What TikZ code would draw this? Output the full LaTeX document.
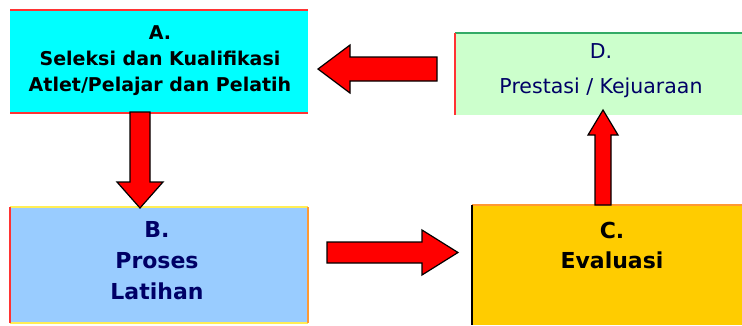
\documentclass[tikz,border=0pt]{standalone}
\usepackage{fontspec}
\setmainfont{DejaVu Sans}
\usetikzlibrary{calc}
\definecolor{boxA}{HTML}{00FFFF}
\definecolor{boxB}{HTML}{99CCFF}
\definecolor{boxC}{HTML}{FFCC00}
\definecolor{boxD}{HTML}{CCFFCC}
\definecolor{edgeRed}{HTML}{FF3333}
\definecolor{edgeGreen}{HTML}{33AA66}
\definecolor{edgeYellow}{HTML}{FFEE55}
\definecolor{edgeOrange}{HTML}{FF9933}
\definecolor{txtNavy}{HTML}{000066}
\tikzset{
  panel/.style={draw=none, inner sep=0pt, outer sep=0pt},
  label/.style={align=center, inner sep=0pt, font=\fontsize{20.5}{26}\selectfont},
  fatarrow/.style={fill=red, draw=black, line width=1.2pt, line join=miter},
  edge/.style={line width=1.5pt}
}
\begin{document}
\begin{tikzpicture}[x=1pt,y=-1pt]
\useasboundingbox (0,0) rectangle (742,325);
% boxes
\node[panel, fill=boxA, minimum width=298pt, minimum height=103pt] (A) at (159,61.5) {};
\node[panel, fill=boxD, minimum width=287pt, minimum height=82pt] (D) at (598.5,74) {};
\node[panel, fill=boxB, minimum width=298pt, minimum height=116pt] (B) at (159,265) {};
\node[panel, fill=boxC, minimum width=270pt, minimum height=120pt] (C) at (607,265) {};
% box edges
\draw[edge, edgeRed] (A.north west) -- (A.north east);
\draw[edge, edgeRed] (A.south west) -- (A.south east);
\draw[edge, edgeGreen] (D.north west) -- (D.north east);
\draw[edge, edgeRed] (D.north west) -- (D.south west);
\draw[edge, edgeYellow] (B.north west) -- (B.north east);
\draw[edge, edgeYellow] (B.south west) -- (B.south east);
\draw[edge, edgeRed] (B.north west) -- (B.south west);
\draw[edge, edgeOrange] (B.north east) -- (B.south east);
\draw[edge, edgeOrange] (C.north west) -- (C.north east);
\draw[edge, black] (C.north west) -- (C.south west);
% texts
\node[label, text=black, font=\bfseries\fontsize{19}{26}\selectfont] (At) at (160,61) {A.\\Seleksi dan Kualifikasi\\Atlet/Pelajar dan Pelatih};
\node[label, text=txtNavy, font=\fontsize{20.5}{35}\selectfont] (Dt) at (601,71) {D.\\Prestasi / Kejuaraan};
\node[label, text=txtNavy, font=\bfseries\fontsize{22}{31}\selectfont] (Bt) at (157,261) {B.\\Proses\\Latihan};
\node[label, text=black, font=\bfseries\fontsize{22}{30}\selectfont] (Ct) at (612,245) {C.\\Evaluasi};
% arrows: D -> A (left)
\coordinate (dl) at (437,69);
\draw[fatarrow] (dl) ++(0,-12) -- ++(-87,0) -- ++(0,-12) -- ++(-32,24) -- ++(32,24) -- ++(0,-12) -- ++(87,0) -- cycle;
% A -> B (down)
\coordinate (ab) at (140,112);
\draw[fatarrow] (ab) ++(-10,0) -- ++(0,70) -- ++(-13,0) -- ++(23,26) -- ++(23,-26) -- ++(-13,0) -- ++(0,-70) -- cycle;
% B -> C (right)
\coordinate (bc) at (327,252.5);
\draw[fatarrow] (bc) ++(0,-10.5) -- ++(95,0) -- ++(0,-12) -- ++(36,22.5) -- ++(-36,22.5) -- ++(0,-12) -- ++(-95,0) -- cycle;
% C -> D (up)
\coordinate (cd) at (603,205);
\draw[fatarrow] (cd) ++(-8,0) -- ++(0,-70) -- ++(-7,0) -- ++(15,-25) -- ++(15,25) -- ++(-7,0) -- ++(0,70) -- cycle;
\end{tikzpicture}
\end{document}
